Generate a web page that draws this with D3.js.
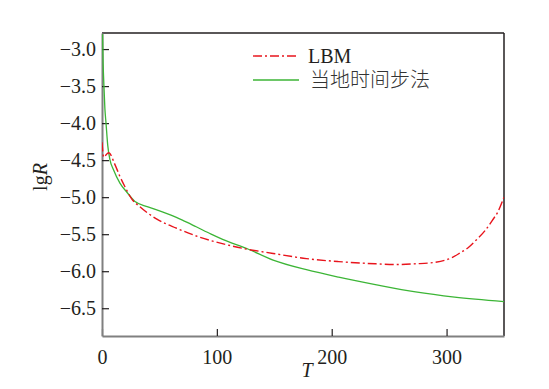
<!DOCTYPE html>
<html>
<head>
<meta charset="utf-8">
<script src="https://cdn.jsdelivr.net/npm/d3@7"></script>
<style>
  html, body { margin: 0; padding: 0; background: #fff; }
  svg { display: block; }
  .serif { font-family: "Liberation Serif", "Times New Roman", Tinos, "DejaVu Serif", serif; }
  .cjk { font-family: "Noto Sans CJK SC", "Noto Sans CJK JP", sans-serif; font-weight: 300; }
</style>
</head>
<body>
<svg id="chart" width="549" height="389"></svg>
<script>
// ---- data ----
const lbmT   = [0, 1.5, 4, 6, 11, 15.6, 20, 25.7, 33, 47, 65, 85, 108, 122, 149, 178, 206, 238, 255, 273, 290, 299, 305.5, 312, 319, 325.8, 333.6, 340, 344.6, 350];
const lbmLgR = [-4.26, -4.46, -4.42, -4.40, -4.55, -4.72, -4.86, -5.02, -5.13, -5.29, -5.42, -5.54, -5.64, -5.69, -5.76, -5.83, -5.87, -5.90, -5.91, -5.90, -5.88, -5.85, -5.81, -5.75, -5.68, -5.58, -5.45, -5.31, -5.20, -5.00];

const lteT   = [0.5, 1, 1.7, 2.5, 3.5, 5, 7, 10, 15.6, 21.5, 26.3, 28.7, 40, 56, 70, 82, 95, 105, 127, 149, 178, 206, 238, 273, 307, 350];
const lteLgR = [-2.80, -3.20, -3.50, -3.80, -4.00, -4.30, -4.50, -4.63, -4.81, -4.93, -5.02, -5.06, -5.13, -5.22, -5.31, -5.40, -5.50, -5.57, -5.70, -5.85, -5.98, -6.08, -6.18, -6.28, -6.35, -6.41];

const xTicks = [0, 100, 200, 300];
const yTicks = [-3.0, -3.5, -4.0, -4.5, -5.0, -5.5, -6.0, -6.5];
const seriesNames = ["LBM", "当地时间步法"];
const seriesColors = ["#e8141c", "#3cb536"];

// ---- layout ----
const svg = d3.select("#chart");
const W = 549, H = 389;
const m = { left: 102, top: 33, right: 45, bottom: 53 };
const iw = W - m.left - m.right, ih = H - m.top - m.bottom;

const x = d3.scaleLinear().domain([0, 350]).range([m.left, m.left + iw]);
const y = d3.scaleLinear().domain([-6.875, -2.783]).range([m.top + ih, m.top]);

svg.append("defs").append("clipPath").attr("id", "clip")
  .append("rect").attr("x", m.left).attr("y", m.top).attr("width", iw).attr("height", ih);

// frame: top/right dark
svg.append("line").attr("x1", m.left).attr("x2", m.left + iw).attr("y1", m.top).attr("y2", m.top)
  .attr("stroke", "#231f20").attr("stroke-width", 1.5);
svg.append("line").attr("x1", m.left + iw).attr("x2", m.left + iw).attr("y1", m.top).attr("y2", m.top + ih)
  .attr("stroke", "#231f20").attr("stroke-width", 1.5);

// axes
const xAxis = d3.axisBottom(x).tickValues(xTicks).tickSizeInner(-7).tickSizeOuter(0).tickPadding(14)
  .tickFormat(d3.format("d"));
const yAxis = d3.axisLeft(y).tickValues(yTicks).tickSizeInner(-7).tickSizeOuter(0).tickPadding(6)
  .tickFormat(d => d3.format(".1f")(d).replace("-", "\u2212"));

const gx = svg.append("g").attr("transform", `translate(0,${m.top + ih})`).call(xAxis);
const gy = svg.append("g").attr("transform", `translate(${m.left},0)`).call(yAxis);

[gx, gy].forEach(g => {
  g.attr("font-family", null).attr("font-size", null);
  g.select(".domain").attr("stroke", "#808080").attr("stroke-width", 2);
  g.selectAll(".tick line").attr("stroke", "#231f20").attr("stroke-width", 1.2);
  g.selectAll(".tick text").attr("class", "serif").style("font-size", "20px").attr("fill", "#231f20");
});

// axis titles
svg.append("text").attr("class", "serif").attr("x", 307).attr("y", 377).attr("text-anchor", "middle")
  .style("font-size", "20px").attr("font-style", "italic").attr("fill", "#231f20").text("T");

const yl = svg.append("text").attr("class", "serif").attr("transform", "translate(47,177) rotate(-90)")
  .attr("text-anchor", "middle").style("font-size", "20px").attr("fill", "#231f20");
yl.append("tspan").text("lg");
yl.append("tspan").attr("font-style", "italic").text("R");

// lines
const line = d3.line().x(d => x(d[0])).y(d => y(d[1])).curve(d3.curveMonotoneX);
const plot = svg.append("g").attr("clip-path", "url(#clip)");

plot.append("path").datum(d3.zip(lteT, lteLgR)).attr("d", line)
  .attr("fill", "none").attr("stroke", seriesColors[1]).attr("stroke-width", 1.3);
plot.append("path").datum(d3.zip(lbmT, lbmLgR)).attr("d", line)
  .attr("fill", "none").attr("stroke", seriesColors[0]).attr("stroke-width", 1.4)
  .attr("stroke-dasharray", "9,3,2,3");

// legend
const leg = svg.append("g");
const legY = [56, 80];
const legTextY = [63, 87];
seriesNames.forEach((name, i) => {
  const l = leg.append("line").attr("x1", 253).attr("x2", 299).attr("y1", legY[i]).attr("y2", legY[i])
    .attr("stroke", seriesColors[i]).attr("stroke-width", i === 0 ? 1.4 : 1.6);
  if (i === 0) l.attr("stroke-dasharray", "9,3,2,3");
  leg.append("text").attr("class", i === 0 ? "serif" : "cjk")
    .attr("x", i === 0 ? 308 : 310).attr("y", legTextY[i])
    .style("font-size", "20px").attr("fill", i === 0 ? "#231f20" : "#333").text(name);
});
</script>
</body>
</html>
